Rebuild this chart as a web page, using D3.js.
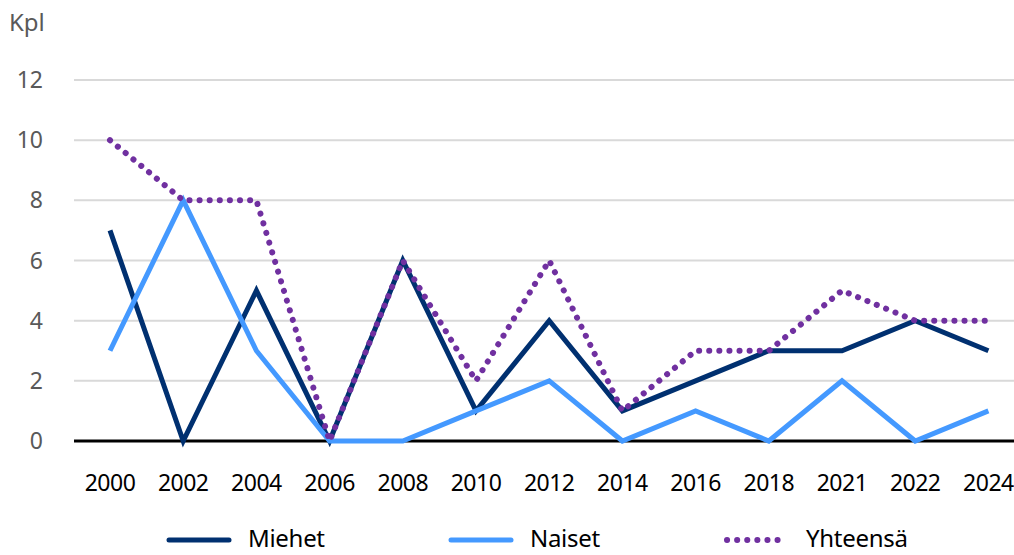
<!DOCTYPE html>
<html>
<head>
<meta charset="utf-8">
<script src="https://cdn.jsdelivr.net/npm/d3@7"></script>
<style>
  body { margin: 0; background: #fff; }
  svg { font-family: 'Noto Sans', sans-serif; }
</style>
</head>
<body>
<div id="chart"></div>
<script>
const years = ['2000', '2002', '2004', '2006', '2008', '2010', '2012', '2014', '2016', '2018', '2021', '2022', '2024']
const miehet = [7, 0, 5, 0, 6, 1, 4, 1, 2, 3, 3, 4, 3]
const naiset = [3, 8, 3, 0, 0, 1, 2, 0, 1, 0, 2, 0, 1]
const yhteensa = [10, 8, 8, 0, 6, 2, 6, 1, 3, 3, 5, 4, 4]
const yTicks = [0, 2, 4, 6, 8, 10, 12]

const width = 1014
const height = 555

const svg = d3.select('#chart')
  .append('svg')
  .attr('width', width)
  .attr('height', height)

const x = d3.scaleBand().domain(years).range([73.4, 1025])
const y = d3.scaleLinear().domain([0, 12]).range([441, 80])
const cx = d => x(d) + x.bandwidth() / 2

// gridlines
svg.append('g')
  .selectAll('line')
  .data(yTicks.filter(t => t > 0))
  .enter()
  .append('line')
  .attr('x1', 74)
  .attr('x2', width)
  .attr('y1', d => y(d))
  .attr('y2', d => y(d))
  .attr('stroke', '#d9d9d9')
  .attr('stroke-width', 2)

// y labels
svg.append('g')
  .selectAll('text')
  .data(yTicks)
  .enter()
  .append('text')
  .attr('x', 43)
  .attr('y', d => y(d))
  .attr('dy', '0.35em')
  .attr('text-anchor', 'end')
  .attr('fill', '#595959')
  .style('font-size', '23px')
  .text(d => d)

svg.append('text')
  .attr('x', 9)
  .attr('y', 31)
  .attr('fill', '#595959')
  .style('font-size', '24px')
  .text('Kpl')

// x labels
svg.append('g')
  .selectAll('text')
  .data(years)
  .enter()
  .append('text')
  .attr('x', d => cx(d))
  .attr('y', 491)
  .attr('text-anchor', 'middle')
  .attr('fill', '#000')
  .style('font-size', '23px')
  .style('letter-spacing', '-0.5px')
  .text(d => d)

const series = [
  { name: 'Miehet', values: miehet, color: '#003070', dash: null },
  { name: 'Naiset', values: naiset, color: '#4499ff', dash: null },
  { name: 'Yhteensä', values: yhteensa, color: '#7030a0', dash: '0.1 10' }
]

const line = d3.line()
  .x((d, i) => cx(years[i]))
  .y(d => y(d))

// zero axis line
svg.append('line')
  .attr('x1', 74)
  .attr('x2', width)
  .attr('y1', y(0))
  .attr('y2', y(0))
  .attr('stroke', '#000')
  .attr('stroke-width', 3)

series.forEach(s => {
  svg.append('path')
    .datum(s.values)
    .attr('d', line)
    .attr('fill', 'none')
    .attr('stroke', s.color)
    .attr('stroke-width', s.dash ? 6 : 5)
    .attr('stroke-linejoin', 'miter')
    .attr('stroke-linecap', s.dash ? 'round' : 'butt')
    .attr('stroke-dasharray', s.dash)
})

// legend
const legendX = [169, 451, 727]
const legend = svg.append('g')
series.forEach((s, i) => {
  legend.append('line')
    .attr('x1', legendX[i])
    .attr('x2', legendX[i] + (s.dash ? 56 : 60))
    .attr('y1', 540)
    .attr('y2', 540)
    .attr('stroke', s.color)
    .attr('stroke-width', s.dash ? 6 : 5)
    .attr('stroke-linecap', 'round')
    .attr('stroke-dasharray', s.dash)
  legend.append('text')
    .attr('x', legendX[i] + 79)
    .attr('y', 547)
    .attr('fill', '#000')
    .style('font-size', '24px')
    .style('letter-spacing', '-0.3px')
    .text(s.name)
})
</script>
</body>
</html>
